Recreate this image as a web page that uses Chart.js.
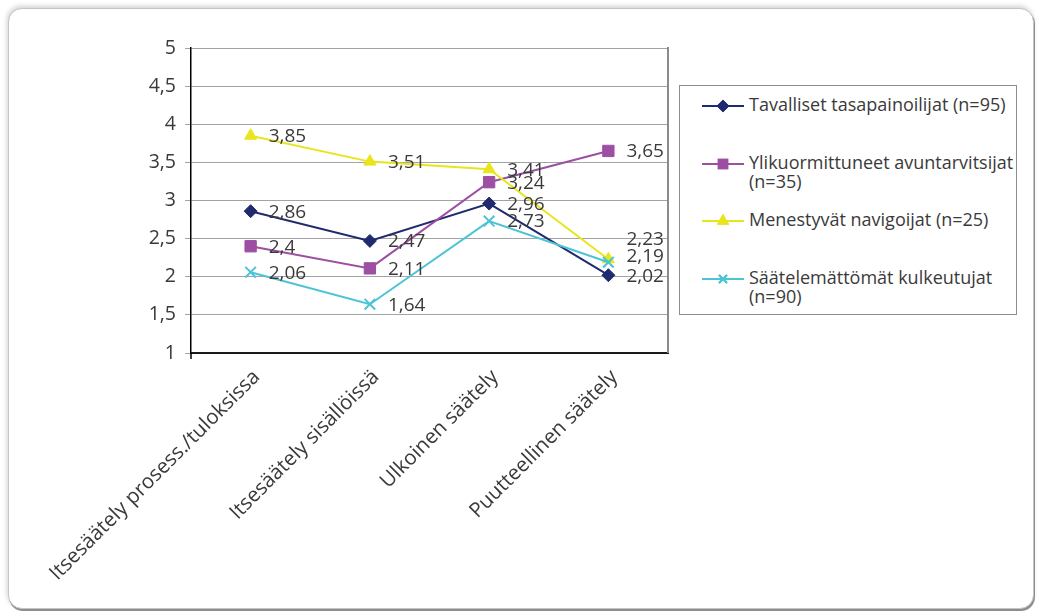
<!DOCTYPE html>
<html>
<head>
<meta charset="utf-8">
<script src="https://cdn.jsdelivr.net/npm/chart.js@4.4.1/dist/chart.umd.min.js"></script>
<style>
  html, body { margin: 0; padding: 0; background: #fff; width: 1039px; height: 613px; overflow: hidden; }
  body { font-family: "Open Sans", "Noto Sans", sans-serif; color: #3a3a3a; }
  #card {
    position: absolute; left: 8px; top: 8px; width: 1024px; height: 599px;
    border: 1px solid #c4c4c4; border-radius: 14px; background: #fff;
    box-shadow: 1px 2px 0 #8d8d8d, -1px -2px 5px rgba(0,0,0,0.18);
  }
  #plot { position: absolute; left: 0; top: 0; width: 680px; height: 613px; }
  #legend {
    position: absolute; left: 679px; top: 85px; width: 338px; height: 230px;
    box-sizing: border-box; border: 1px solid #8c8c8c; background: #fff;
    padding-top: 10px;
  }
  .item { position: relative; height: 57.5px; }
  .item canvas { position: absolute; left: 22px; top: 0; }
  .item .txt {
    position: absolute; left: 69px; top: -1px; white-space: nowrap;
    font-size: 18px; line-height: 19px; color: #3a3a3a;
  }
</style>
</head>
<body>
<div id="card"></div>
<div id="plot"><canvas id="chart" width="680" height="613"></canvas></div>
<div id="legend"></div>
<script>
// Regulation profile categories (x axis)
const categories = [
  'Itsesäätely prosess./tuloksissa',
  'Itsesäätely sisällöissä',
  'Ulkoinen säätely',
  'Puutteellinen säätely'
];

// Group names, split where the legend wraps them
const seriesNames = [
  ['Tavalliset tasapainoilijat (n=95)'],
  ['Ylikuormittuneet avuntarvitsijat', '(n=35)'],
  ['Menestyvät navigoijat (n=25)'],
  ['Säätelemättömät kulkeutujat', '(n=90)']
];

// Mean scores per group
const tavalliset       = [2.86, 2.47, 2.96, 2.02];
const ylikuormittuneet = [2.40, 2.11, 3.24, 3.65];
const menestyvat       = [3.85, 3.51, 3.41, 2.23];
const saatelemattomat  = [2.06, 1.64, 2.73, 2.19];

// Value axis
const yMin = 1, yMax = 5, yStep = 0.5;

const seriesValues = [tavalliset, ylikuormittuneet, menestyvat, saatelemattomat];
const seriesColors = ['#1f2b6e', '#9c4fa3', '#e9e51c', '#4cc4d6'];
const seriesMarkers = ['rectRot', 'rect', 'triangle', 'crossRot'];
const markerRadius = [6.5, 8, 7, 7.5];

const comma = v => String(v).replace('.', ',');

Chart.defaults.font.family = '"Open Sans", "Noto Sans", sans-serif';
Chart.defaults.font.size = 19;
Chart.defaults.color = '#3a3a3a';

// Value labels to the right of each point
const valueLabels = {
  id: 'valueLabels',
  afterDatasetsDraw(chart, args, opts) {
    const ctx = chart.ctx;
    ctx.save();
    ctx.font = '19px "Open Sans", "Noto Sans", sans-serif';
    ctx.fillStyle = '#3a3a3a';
    ctx.textAlign = 'left';
    ctx.textBaseline = 'middle';
    chart.data.datasets.forEach((ds, i) => {
      const meta = chart.getDatasetMeta(i);
      const shift = opts.shift[i] || [];
      meta.data.forEach((pt, j) => {
        ctx.fillText(comma(ds.data[j]), pt.x + 18, pt.y + 1 + (shift[j] || 0));
      });
    });
    ctx.restore();
  }
};

// Right edge of the plot frame and the corner tick at the origin
const plotFrame = {
  id: 'plotFrame',
  afterDraw(chart) {
    const { ctx, chartArea: a } = chart;
    ctx.save();
    ctx.strokeStyle = '#8a8a8a';
    ctx.lineWidth = 2;
    ctx.beginPath();
    ctx.moveTo(a.right, a.top - 1);
    ctx.lineTo(a.right, a.bottom);
    ctx.stroke();
    ctx.strokeStyle = '#000';
    ctx.lineWidth = 1.5;
    ctx.beginPath();
    ctx.moveTo(a.left, a.bottom);
    ctx.lineTo(a.left, a.bottom + 6);
    ctx.stroke();
    ctx.restore();
  }
};

const datasets = seriesValues.map((vals, i) => ({
  label: seriesNames[i].join(' '),
  data: vals,
  borderColor: seriesColors[i],
  backgroundColor: seriesColors[i],
  borderWidth: 2,
  pointStyle: seriesMarkers[i],
  pointRadius: markerRadius[i],
  pointBorderWidth: seriesMarkers[i] === 'crossRot' ? 2 : 1,
  pointBorderColor: seriesColors[i],
  pointBackgroundColor: seriesColors[i],
  tension: 0,
  order: seriesValues.length - 1 - i
}));

new Chart(document.getElementById('chart'), {
  type: 'line',
  data: { labels: categories, datasets },
  options: {
    responsive: false,
    animation: false,
    layout: { padding: { top: 48, right: 12, left: 0, bottom: 0 } },
    plugins: {
      legend: { display: false },
      tooltip: { enabled: false },
      valueLabels: { shift: { 2: [0, 0, 0, -21], 3: [0, 0, 0, -7] } }
    },
    scales: {
      x: {
        offset: true,
        grid: { display: false },
        border: { display: true, color: '#1a1a1a', width: 2 },
        ticks: { minRotation: 45, maxRotation: 45, autoSkip: false, padding: 4,
                 labelOffset: 6, font: { size: 20.5 }, color: '#3a3a3a' },
        afterFit(scale) { scale.height = 260; }
      },
      y: {
        min: yMin, max: yMax,
        grid: { color: '#a3a3a3', lineWidth: 1, tickLength: 6 },
        border: { display: true, color: '#000', width: 1.5 },
        ticks: { stepSize: yStep, padding: 9, callback: v => comma(v),
                 font: { size: 19.5 }, color: '#3a3a3a' },
        afterFit(scale) { scale.width = 191; }
      }
    }
  },
  plugins: [valueLabels, plotFrame]
});

// Legend box
const legend = document.getElementById('legend');
seriesNames.forEach((lines, i) => {
  const item = document.createElement('div');
  item.className = 'item';
  const c = document.createElement('canvas');
  c.width = 42; c.height = 20;
  const g = c.getContext('2d');
  g.strokeStyle = seriesColors[i];
  g.lineWidth = 2;
  g.beginPath(); g.moveTo(0, 10); g.lineTo(42, 10); g.stroke();
  g.fillStyle = seriesColors[i];
  Chart.helpers.drawPoint(g, {
    pointStyle: seriesMarkers[i],
    radius: markerRadius[i] * 0.75,
    borderWidth: seriesMarkers[i] === 'crossRot' ? 2 : 1,
    rotation: 0
  }, 21, 10);
  if (seriesMarkers[i] === 'crossRot') { g.stroke(); } else { g.fill(); g.stroke(); }
  item.appendChild(c);
  const t = document.createElement('div');
  t.className = 'txt';
  t.innerHTML = lines.join('<br>');
  item.appendChild(t);
  legend.appendChild(item);
});
</script>
</body>
</html>
